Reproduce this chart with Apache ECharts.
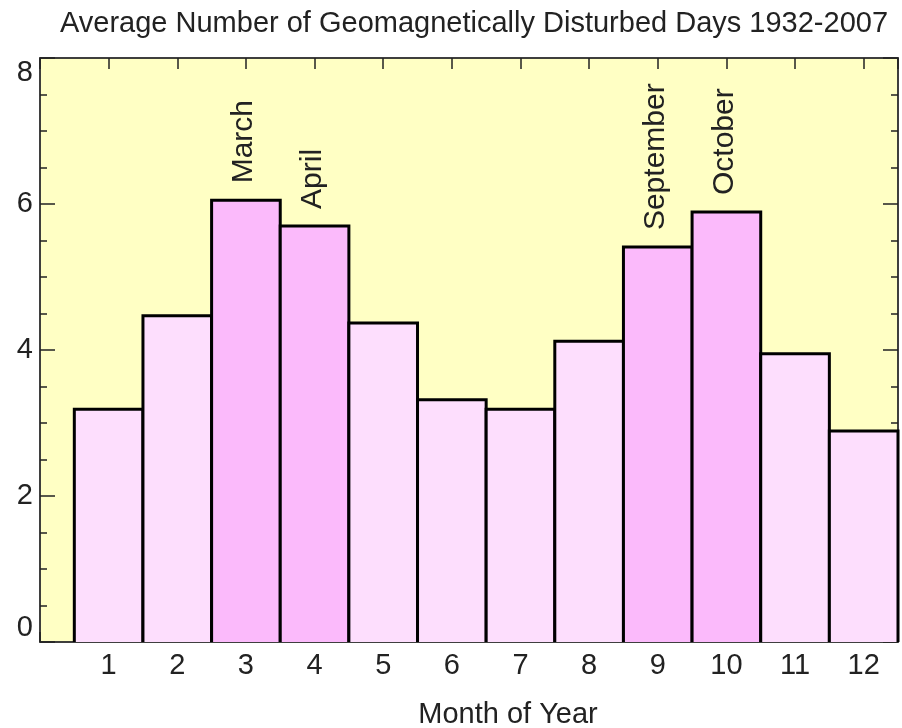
<!DOCTYPE html>
<html>
<head>
<meta charset="utf-8">
<script src="https://cdn.jsdelivr.net/npm/echarts@6/dist/echarts.min.js"></script>
<style>
  html, body { margin: 0; padding: 0; background: #fff; }
  #chart { width: 902px; height: 728px; }
</style>
</head>
<body>
<div id="chart"></div>
<script>
// monthly averages
const months = [1, 2, 3, 4, 5, 6, 7, 8, 9, 10, 11, 12];
const days = [3.19, 4.47, 6.05, 5.70, 4.37, 3.32, 3.19, 4.12, 5.41, 5.89, 3.95, 2.89];
const monthNames = ["", "", "March", "April", "", "", "", "", "September", "October", "", ""];
const yTicks = [0, 2, 4, 6, 8];

const FONT = "Liberation Sans, Arial, sans-serif";
const lightPink = "#fddefd";
const darkPink = "#fbbafb";

const chart = echarts.init(document.getElementById("chart"));

const data = months.map((m, i) => [m, days[i], monthNames[i]]);

function renderBar(params, api) {
  const x = api.value(0);
  const y = api.value(1);
  const name = monthNames[params.dataIndex];
  const top = api.coord([x - 0.5, y]);
  const bot = api.coord([x + 0.5, 0]);
  const children = [
    {
      type: "rect",
      shape: { x: top[0], y: top[1], width: bot[0] - top[0], height: bot[1] - top[1] },
      style: { fill: name ? darkPink : lightPink }
    },
    {
      type: "polyline",
      shape: { points: [[top[0], bot[1]], [top[0], top[1]], [bot[0], top[1]], [bot[0], bot[1]]] },
      style: { fill: null, stroke: "#000", lineWidth: 3 }
    }
  ];
  if (name) {
    children.push({
      type: "text",
      x: (top[0] + bot[0]) / 2 - 2,
      y: top[1] - 17,
      rotation: Math.PI / 2,
      style: {
        text: name,
        fontSize: 30,
        fontFamily: FONT,
        fill: "#222",
        align: "left",
        verticalAlign: "middle"
      }
    });
  }
  return { type: "group", children: children };
}

const tickLine = { lineStyle: { color: "#222", width: 1.5 } };

const option = {
  animation: false,
  backgroundColor: "#fff",
  title: {
    text: "Average Number of Geomagnetically Disturbed Days 1932-2007",
    left: 469,
    textAlign: "center",
    top: 4,
    textStyle: { fontFamily: FONT, fontSize: 29, fontWeight: "normal", color: "#222" }
  },
  grid: {
    left: 40, right: 4, top: 58, bottom: 86,
    show: true,
    backgroundColor: "#ffffc4",
    borderColor: "#333",
    borderWidth: 1.5,
    containLabel: false,
    outerBoundsMode: "none"
  },
  xAxis: [
    {
      type: "value",
      position: "bottom",
      min: 0, max: 12.5, interval: 1,
      name: "Month of Year",
      nameLocation: "middle",
      nameGap: 58,
      nameTextStyle: { fontFamily: FONT, fontSize: 29, color: "#222", padding: [0, 0, 0, 78] },
      axisLine: { show: true, onZero: false, lineStyle: { color: "#333", width: 1.5 } },
      axisTick: { show: true, inside: true, length: 10, ...tickLine },
      axisLabel: {
        fontFamily: FONT, fontSize: 29, color: "#222", margin: 9,
        formatter: v => (v >= 1 && v <= 12 && Number.isInteger(v)) ? String(v) : ""
      },
      splitLine: { show: false }
    },
    {
      type: "value",
      position: "top",
      min: 0, max: 12.5, interval: 1,
      axisLine: { show: true, onZero: false, lineStyle: { color: "#333", width: 1.5 } },
      axisTick: { show: true, inside: true, length: 11, ...tickLine },
      axisLabel: { show: false },
      splitLine: { show: false }
    }
  ],
  yAxis: [
    {
      type: "value",
      position: "left",
      min: yTicks[0], max: yTicks[yTicks.length - 1], interval: 2,
      axisLine: { show: true, onZero: false, lineStyle: { color: "#333", width: 1.5 } },
      axisTick: { show: true, inside: true, length: 15, ...tickLine },
      minorTick: { show: true, splitNumber: 4, length: 7, lineStyle: { color: "#222", width: 1.5 } },
      axisLabel: {
        fontFamily: FONT, fontSize: 29, color: "#222", margin: 7,
        verticalAlignMaxLabel: "top",
        verticalAlignMinLabel: "bottom"
      },
      splitLine: { show: false }
    },
    {
      type: "value",
      position: "right",
      min: yTicks[0], max: yTicks[yTicks.length - 1], interval: 2,
      axisLine: { show: true, onZero: false, lineStyle: { color: "#333", width: 1.5 } },
      axisTick: { show: true, inside: true, length: 15, ...tickLine },
      minorTick: { show: true, splitNumber: 4, length: 7, lineStyle: { color: "#222", width: 1.5 } },
      axisLabel: { show: false },
      splitLine: { show: false }
    }
  ],
  series: [
    {
      type: "custom",
      xAxisIndex: 0,
      yAxisIndex: 0,
      data: data,
      renderItem: renderBar,
      clip: false
    }
  ]
};

chart.setOption(option);
</script>
</body>
</html>
